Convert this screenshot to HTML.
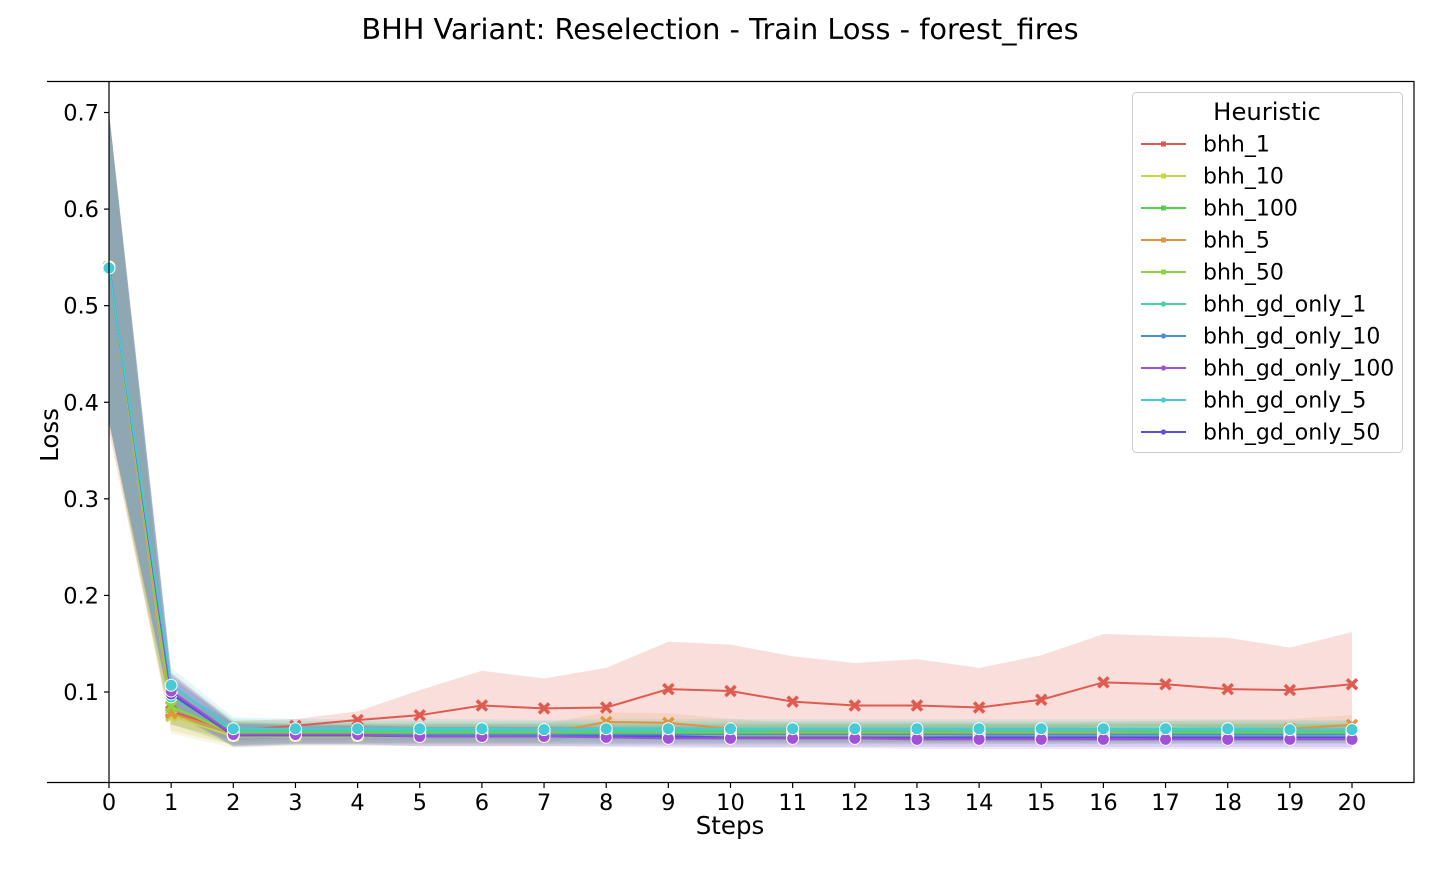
<!DOCTYPE html>
<html><head><meta charset="utf-8">
<style>
body{margin:0;background:#fff;}
svg text{font-family:"DejaVu Sans","Liberation Sans",sans-serif;fill:#000;}
</style></head>
<body>
<svg id="chart" width="1440" height="864" xmlns="http://www.w3.org/2000/svg">
<text x="720" y="39" font-size="28.8" text-anchor="middle">BHH Variant: Reselection - Train Loss - forest_fires</text>
<g id="bands"></g>
<g id="lines"></g>
<g id="axes"></g>
<g id="legend"></g>
</svg>
<script>
const steps = [0,1,2,3,4,5,6,7,8,9,10,11,12,13,14,15,16,17,18,19,20];
const names = ["bhh_1","bhh_10","bhh_100","bhh_5","bhh_50","bhh_gd_only_1","bhh_gd_only_10","bhh_gd_only_100","bhh_gd_only_5","bhh_gd_only_50"];
const colors = ["#e05b4f","#c9d443","#4fd24f","#e0943e","#8ed43f","#45d49c","#4a8fd8","#a150d8","#45cad6","#5a4fd8"];
const s_bhh_1 = [0.54,0.080,0.060,0.065,0.071,0.076,0.086,0.083,0.084,0.103,0.101,0.090,0.086,0.086,0.084,0.092,0.110,0.108,0.103,0.102,0.108];
const s_bhh_10 = [0.54,0.075,0.054,0.054,0.054,0.054,0.054,0.054,0.055,0.055,0.055,0.055,0.055,0.055,0.056,0.056,0.056,0.057,0.057,0.057,0.057];
const s_bhh_100 = [0.54,0.085,0.058,0.058,0.058,0.058,0.058,0.058,0.058,0.058,0.058,0.058,0.058,0.058,0.058,0.058,0.058,0.058,0.058,0.058,0.058];
const s_bhh_5 = [0.54,0.078,0.057,0.057,0.057,0.057,0.057,0.057,0.069,0.068,0.062,0.058,0.058,0.058,0.058,0.058,0.059,0.060,0.061,0.062,0.066];
const s_bhh_50 = [0.54,0.085,0.057,0.057,0.057,0.057,0.057,0.057,0.057,0.057,0.057,0.057,0.057,0.057,0.057,0.057,0.057,0.057,0.057,0.057,0.057];
const s_gd_1 = [0.54,0.095,0.060,0.060,0.060,0.060,0.060,0.060,0.060,0.060,0.060,0.060,0.060,0.060,0.060,0.060,0.060,0.060,0.060,0.060,0.060];
const s_gd_10 = [0.54,0.100,0.056,0.056,0.056,0.056,0.056,0.056,0.056,0.056,0.056,0.056,0.056,0.056,0.056,0.056,0.056,0.056,0.056,0.056,0.056];
const s_gd_100 = [0.54,0.101,0.056,0.056,0.056,0.054,0.054,0.054,0.053,0.052,0.052,0.052,0.052,0.051,0.051,0.051,0.051,0.051,0.051,0.051,0.051];
const s_gd_5 = [0.539,0.107,0.062,0.062,0.062,0.062,0.062,0.061,0.062,0.062,0.062,0.062,0.062,0.062,0.062,0.062,0.062,0.062,0.062,0.061,0.061];
const s_gd_50 = [0.54,0.098,0.055,0.055,0.055,0.054,0.054,0.054,0.054,0.054,0.053,0.053,0.053,0.053,0.053,0.053,0.053,0.053,0.053,0.053,0.053];
const series = [s_bhh_1,s_bhh_10,s_bhh_100,s_bhh_5,s_bhh_50,s_gd_1,s_gd_10,s_gd_100,s_gd_5,s_gd_50];
const red_upper = [0.70,0.120,0.070,0.072,0.080,0.102,0.122,0.114,0.125,0.152,0.149,0.137,0.130,0.134,0.125,0.138,0.160,0.158,0.156,0.146,0.162];
const red_lower = [0.37,0.066,0.050,0.053,0.056,0.058,0.060,0.060,0.060,0.062,0.062,0.060,0.060,0.060,0.060,0.060,0.065,0.065,0.062,0.062,0.062];
const band_half = [0.16,0.018,0.012,0.010,0.010,0.010,0.010,0.010,0.010,0.010,0.010,0.010,0.010,0.010,0.010,0.010,0.010,0.010,0.010,0.010,0.010];
const yTicks = [0.1,0.2,0.3,0.4,0.5,0.6,0.7];
const drawOrder = [0,1,2,3,4,5,6,9,7,8];

const NS="http://www.w3.org/2000/svg";
function X(s){return 109 + s*62.15;}
function Y(v){return 692 - (v-0.1)*965.8;}
function mk(tag,attrs,parent){const e=document.createElementNS(NS,tag);for(const k in attrs)e.setAttribute(k,attrs[k]);parent.appendChild(e);return e;}
const bands=document.getElementById('bands'), lines=document.getElementById('lines'), axes=document.getElementById('axes'), legend=document.getElementById('legend');

series.forEach((s,i)=>{
  let up, lo;
  if(i===0){up=red_upper;lo=red_lower;}
  else{up=s.map((v,j)=>v+band_half[j]);lo=s.map((v,j)=>v-band_half[j]);}
  let d='M'+steps.map(j=>X(j)+','+Y(up[j])).join(' L')+' L'+steps.slice().reverse().map(j=>X(j)+','+Y(lo[j])).join(' L')+'Z';
  const p=mk('path',{d:d,fill:colors[i],'fill-opacity':(i===0?0.2:0.15),stroke:'none'},bands);
  
  
});
drawOrder.forEach(i=>{
  const s=series[i];
  const g=mk('g',{},lines);
  
  
  mk('polyline',{points:steps.map(j=>X(j)+','+Y(s[j])).join(' '),fill:'none',stroke:colors[i],'stroke-width':2},g);
  steps.forEach(j=>{
    const x=X(j),y=Y(s[j]);
    let m;
    if(i<5){
      m=mk('path',{d:`M${x-5},${y-5}L${x+5},${y+5}M${x-5},${y+5}L${x+5},${y-5}`,stroke:colors[i],'stroke-width':3.5},g);
    } else {
      m=mk('circle',{cx:x,cy:y,r:6,fill:colors[i],stroke:'#fff','stroke-width':1},g);
    }
    
    
  });
});
mk('line',{x1:47,y1:81.5,x2:1414,y2:81.5,stroke:'#000','stroke-width':1.2},axes);
mk('line',{x1:47,y1:782.5,x2:1414,y2:782.5,stroke:'#000','stroke-width':1.2},axes);
mk('line',{x1:1414,y1:81,x2:1414,y2:783,stroke:'#000','stroke-width':1.2},axes);
mk('line',{x1:109,y1:81,x2:109,y2:783,stroke:'#000','stroke-width':1.2},axes);
yTicks.forEach(v=>{
  const y=Y(v);
  mk('line',{x1:104,y1:y,x2:109,y2:y,stroke:'#000','stroke-width':1.2},axes);
  const t=mk('text',{x:99,y:y+8,'font-size':22.5,'text-anchor':'end'},axes);
  t.textContent=v.toFixed(1);
  
  
});
steps.forEach(j=>{
  const x=X(j);
  mk('line',{x1:x,y1:782,x2:x,y2:788,stroke:'#000','stroke-width':1.2},axes);
  const t=mk('text',{x:x,y:810,'font-size':22.5,'text-anchor':'middle'},axes);
  t.textContent=String(j);
  
  
});
const xt=mk('text',{x:730,y:834,'font-size':24.5,'text-anchor':'middle'},axes);
xt.textContent='Steps';


const yt=mk('text',{x:58,y:435,'font-size':24.5,'text-anchor':'middle',transform:'rotate(-90 58 435)'},axes);
yt.textContent='Loss';


mk('rect',{x:1132.5,y:92.5,width:270,height:360,rx:4,fill:'#fff','fill-opacity':0.8,stroke:'#ccc','stroke-width':1},legend);
const lt=mk('text',{x:1267,y:120,'font-size':24.3,'text-anchor':'middle'},legend);
lt.textContent='Heuristic';


names.forEach((n,i)=>{
  const y=144+32*i;
  const g=mk('g',{},legend);
  
  
  mk('line',{x1:1141,y1:y,x2:1186,y2:y,stroke:colors[i],'stroke-width':2},g);
  if(i<5) mk('rect',{x:1161,y:y-2.5,width:5,height:5,fill:colors[i]},g);
  else mk('circle',{cx:1163.5,cy:y,r:2.6,fill:colors[i]},g);
  const t=mk('text',{x:1203,y:y+7.5,'font-size':22},g);
  t.textContent=n;
});
</script>
</body></html>
